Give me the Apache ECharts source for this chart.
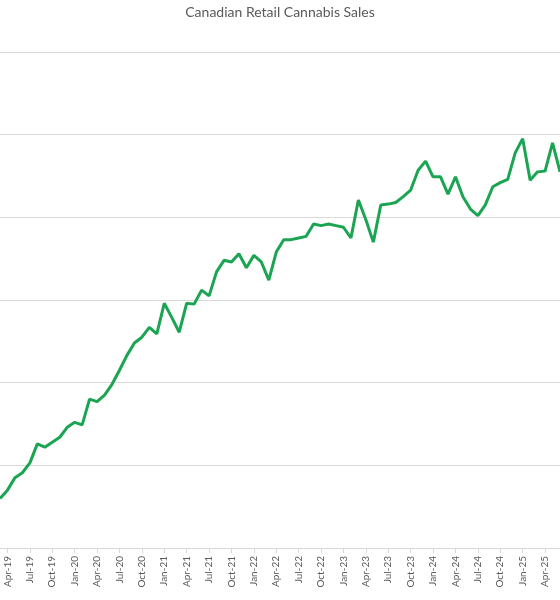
<!DOCTYPE html>
<html>
<head>
<meta charset="utf-8">
<script src="https://cdn.jsdelivr.net/npm/echarts@6/dist/echarts.min.js"></script>
<style>html,body{margin:0;padding:0;background:#fff}#chart{width:560px;height:600px}</style>
</head>
<body>
<div id="chart"></div>
<script>
// monthly sales, $M, Mar-19 .. Jun-25
const months = ['Jan','Feb','Mar','Apr','May','Jun','Jul','Aug','Sep','Oct','Nov','Dec']
const sales2019 = [60, 70, 85, 91, 103, 126, 122, 128, 134, 146]          // Mar..Dec
const sales2020 = [152, 149, 180, 177, 185, 198, 215, 233, 248, 255, 267, 259]
const sales2021 = [296, 279, 261, 296, 295, 312, 305, 334, 348, 346, 356, 339]
const sales2022 = [354, 346, 324, 358, 373, 373, 375, 377, 392, 390, 392, 390]
const sales2023 = [388, 375, 421, 397, 370, 415, 416, 418, 425, 433, 457, 468]
const sales2024 = [449, 449, 428, 449, 425, 410, 402, 415, 437, 442, 446, 478]
const sales2025 = [495, 445, 455, 456, 490, 455]                          // Jan..Jun

let categories = []
let values = []
const years = [[19, sales2019, 2], [20, sales2020, 0], [21, sales2021, 0], [22, sales2022, 0],
    [23, sales2023, 0], [24, sales2024, 0], [25, sales2025, 0]]
years.forEach(([yy, arr, start]) => {
    arr.forEach((v, i) => {
        categories.push(months[start + i] + '-' + yy)
        values.push(v)
    })
})

let myChart = echarts.init(document.getElementById('chart'))
const showEvery3 = (idx) => (idx - 1) % 3 === 0
myChart.setOption({
    animation: false,
    title: {
        text: 'Canadian Retail Cannabis Sales',
        left: 'center', top: 0,
        textStyle: {color: '#595959', fontSize: 14, fontWeight: 'normal', fontFamily: 'Lato'}
    },
    grid: {left: -5.6, right: -1.4, top: 52, bottom: 52, containLabel: false},
    xAxis: {
        type: 'category',
        data: categories,
        boundaryGap: false,
        axisLine: {lineStyle: {color: '#d9d9d9'}},
        axisTick: {interval: showEvery3, length: 5, lineStyle: {color: '#d9d9d9'}},
        axisLabel: {interval: showEvery3, rotate: 90, color: '#595959', fontSize: 10, fontFamily: 'Lato', margin: 8}
    },
    yAxis: {
        type: 'value', min: 0, max: 600, interval: 100,
        axisLabel: {show: false},
        axisLine: {show: false}, axisTick: {show: false},
        splitLine: {lineStyle: {color: '#d9d9d9'}}
    },
    series: [{
        type: 'line',
        data: values,
        showSymbol: false,
        lineStyle: {color: '#1ba553', width: 3},
        itemStyle: {color: '#1ba553'}
    }]
})
</script>
</body>
</html>
